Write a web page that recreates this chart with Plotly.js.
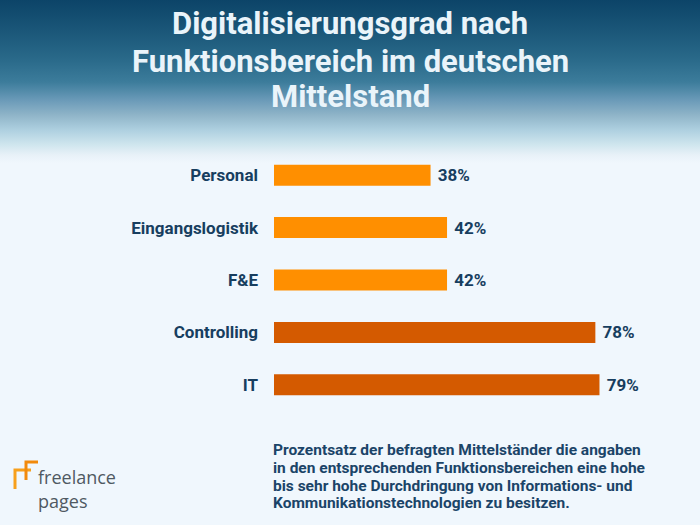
<!DOCTYPE html>
<html>
<head>
<meta charset="utf-8">
<script src="https://cdn.plot.ly/plotly-3.0.1.min.js"></script>
<style>
html,body{margin:0;padding:0;}
body{width:700px;height:525px;background:linear-gradient(to bottom,#0c4468 0px,#1a5678 30px,#2a6a8a 60px,#3c7c9b 82px,#6a9ab8 100px,#8fb4c8 115px,#aed0e0 130px,#d0e6ee 145px,#e8f1f8 155px,#f0f7fd 163px,#f0f7fd 525px);}
#chart{width:700px;height:525px;}
</style>
</head>
<body>
<div id="chart"></div>
<script>
const categories = ["Personal", "Eingangslogistik", "F&E", "Controlling", "IT"];
const values = [38, 42, 42, 78, 79];
const barColors = ["#ff8f00", "#ff8f00", "#ff8f00", "#d45a00", "#d45a00"];
const titleLines = ["Digitalisierungsgrad nach", "Funktionsbereich im deutschen", "Mittelstand"];
const noteLines = [
  "Prozentsatz der befragten Mittelständer die angaben",
  "in den entsprechenden Funktionsbereichen eine hohe",
  "bis sehr hohe Durchdringung von Informations- und",
  "Kommunikationstechnologien zu besitzen."
];
const logoLines = ["freelance", "pages"];

const W = 700, H = 525;
const M = {l: 274, r: 14, t: 149, b: 114};
const PW = W - M.l - M.r, PH = H - M.t - M.b;
const px = x => (x - M.l) / PW;
const py = y => (H - M.b - y) / PH;

const navy = "#173e5f";
const trace = {
  type: "bar",
  orientation: "h",
  y: categories,
  x: values,
  width: 0.4,
  marker: {color: barColors, line: {width: 0}},
  text: values.map(v => "\u00a0" + v + "%"),
  textposition: "outside",
  textfont: {family: "Roboto, sans-serif", size: 17, color: navy, weight: 700},
  cliponaxis: false,
  hoverinfo: "none"
};

const annotations = [];
const titleY = [24, 61, 97];
titleLines.forEach((t, i) => annotations.push({
  text: t, xref: "paper", yref: "paper", x: px(350), y: py(titleY[i]),
  xanchor: "center", yanchor: "middle", showarrow: false,
  font: {family: "Roboto, sans-serif", size: 31, color: "#eaf4fa", weight: 700}
}));
const noteY = [450, 468, 486, 503];
noteLines.forEach((t, i) => annotations.push({
  text: t, xref: "paper", yref: "paper", x: px(271), y: py(noteY[i]),
  xanchor: "left", yanchor: "middle", showarrow: false,
  font: {family: "Roboto, sans-serif", size: 15.5, color: "#1b4468", weight: 700}
}));
// logo text: first line sits above y=489, second below it
logoLines.forEach((t, i) => annotations.push({
  text: t, xref: "paper", yref: "paper", x: px(37), y: py(i === 0 ? 490 : 488),
  xanchor: "left", yanchor: i === 0 ? "bottom" : "top", showarrow: false,
  borderpad: 0,
  font: {family: "Open Sans, sans-serif", size: 18, color: "#4f5962"}
}));

const layout = {
  width: W, height: H,
  paper_bgcolor: "rgba(0,0,0,0)",
  plot_bgcolor: "rgba(0,0,0,0)",
  margin: M,
  showlegend: false,
  xaxis: {range: [0, 100], visible: false, fixedrange: true},
  yaxis: {
    type: "category",
    autorange: "reversed",
    showgrid: false, zeroline: false, showline: false,
    ticks: "", ticklabelstandoff: 15,
    tickfont: {family: "Roboto, sans-serif", size: 17, color: navy, weight: 700}
  },
  annotations: annotations,
  shapes: [
    {type: "path", xref: "paper", yref: "paper",
     path: `M ${px(15)} ${py(489)} L ${px(15)} ${py(470)} L ${px(31)} ${py(470)}`,
     line: {color: "#f7a01c", width: 3}},
    {type: "path", xref: "paper", yref: "paper",
     path: `M ${px(26)} ${py(480)} L ${px(26)} ${py(462)} L ${px(38)} ${py(462)}`,
     line: {color: "#f28a0c", width: 3}}
  ]
};

Plotly.newPlot("chart", [trace], layout, {displayModeBar: false, staticPlot: true});
</script>
</body>
</html>
